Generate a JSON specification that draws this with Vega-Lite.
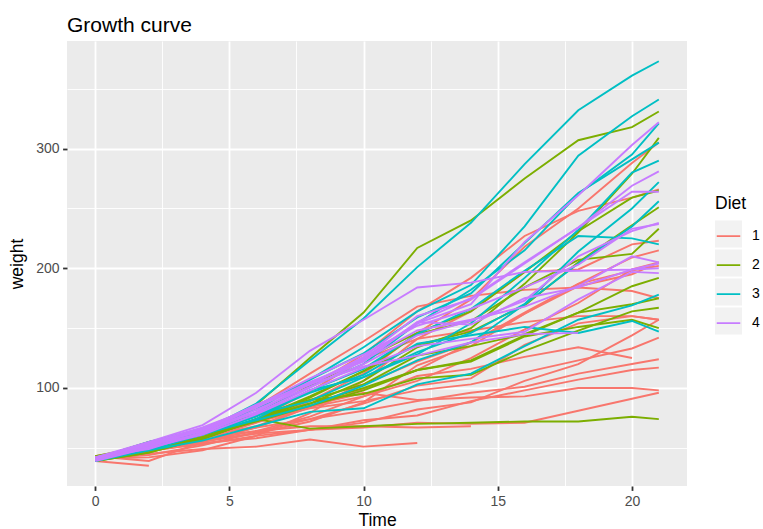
{
  "$schema": "https://vega.github.io/schema/vega-lite/v6.json",
  "width": 620,
  "height": 445,
  "autosize": {"type": "none"},
  "padding": {"left": 67, "top": 41, "right": 76, "bottom": 43},
  "background": "white",
  "title": {
    "text": "Growth curve",
    "anchor": "start",
    "frame": "group",
    "fontSize": 21,
    "fontWeight": "normal",
    "color": "black",
    "baseline": "alphabetic",
    "offset": -12
  },
  "data": {
    "values": [
      {"Chick":1,"Diet":1,"Time":0,"weight":42},{"Chick":1,"Diet":1,"Time":2,"weight":51},{"Chick":1,"Diet":1,"Time":4,"weight":59},{"Chick":1,"Diet":1,"Time":6,"weight":64},{"Chick":1,"Diet":1,"Time":8,"weight":76},{"Chick":1,"Diet":1,"Time":10,"weight":93},{"Chick":1,"Diet":1,"Time":12,"weight":106},{"Chick":1,"Diet":1,"Time":14,"weight":125},{"Chick":1,"Diet":1,"Time":16,"weight":149},{"Chick":1,"Diet":1,"Time":18,"weight":171},{"Chick":1,"Diet":1,"Time":20,"weight":199},{"Chick":1,"Diet":1,"Time":21,"weight":205},
      {"Chick":2,"Diet":1,"Time":0,"weight":40},{"Chick":2,"Diet":1,"Time":2,"weight":49},{"Chick":2,"Diet":1,"Time":4,"weight":58},{"Chick":2,"Diet":1,"Time":6,"weight":72},{"Chick":2,"Diet":1,"Time":8,"weight":84},{"Chick":2,"Diet":1,"Time":10,"weight":103},{"Chick":2,"Diet":1,"Time":12,"weight":122},{"Chick":2,"Diet":1,"Time":14,"weight":138},{"Chick":2,"Diet":1,"Time":16,"weight":162},{"Chick":2,"Diet":1,"Time":18,"weight":187},{"Chick":2,"Diet":1,"Time":20,"weight":209},{"Chick":2,"Diet":1,"Time":21,"weight":215},
      {"Chick":3,"Diet":1,"Time":0,"weight":43},{"Chick":3,"Diet":1,"Time":2,"weight":39},{"Chick":3,"Diet":1,"Time":4,"weight":55},{"Chick":3,"Diet":1,"Time":6,"weight":67},{"Chick":3,"Diet":1,"Time":8,"weight":84},{"Chick":3,"Diet":1,"Time":10,"weight":99},{"Chick":3,"Diet":1,"Time":12,"weight":115},{"Chick":3,"Diet":1,"Time":14,"weight":138},{"Chick":3,"Diet":1,"Time":16,"weight":163},{"Chick":3,"Diet":1,"Time":18,"weight":187},{"Chick":3,"Diet":1,"Time":20,"weight":198},{"Chick":3,"Diet":1,"Time":21,"weight":202},
      {"Chick":4,"Diet":1,"Time":0,"weight":42},{"Chick":4,"Diet":1,"Time":2,"weight":49},{"Chick":4,"Diet":1,"Time":4,"weight":56},{"Chick":4,"Diet":1,"Time":6,"weight":67},{"Chick":4,"Diet":1,"Time":8,"weight":74},{"Chick":4,"Diet":1,"Time":10,"weight":87},{"Chick":4,"Diet":1,"Time":12,"weight":102},{"Chick":4,"Diet":1,"Time":14,"weight":108},{"Chick":4,"Diet":1,"Time":16,"weight":136},{"Chick":4,"Diet":1,"Time":18,"weight":154},{"Chick":4,"Diet":1,"Time":20,"weight":160},{"Chick":4,"Diet":1,"Time":21,"weight":157},
      {"Chick":5,"Diet":1,"Time":0,"weight":41},{"Chick":5,"Diet":1,"Time":2,"weight":42},{"Chick":5,"Diet":1,"Time":4,"weight":48},{"Chick":5,"Diet":1,"Time":6,"weight":60},{"Chick":5,"Diet":1,"Time":8,"weight":79},{"Chick":5,"Diet":1,"Time":10,"weight":106},{"Chick":5,"Diet":1,"Time":12,"weight":141},{"Chick":5,"Diet":1,"Time":14,"weight":164},{"Chick":5,"Diet":1,"Time":16,"weight":197},{"Chick":5,"Diet":1,"Time":18,"weight":199},{"Chick":5,"Diet":1,"Time":20,"weight":220},{"Chick":5,"Diet":1,"Time":21,"weight":223},
      {"Chick":6,"Diet":1,"Time":0,"weight":41},{"Chick":6,"Diet":1,"Time":2,"weight":49},{"Chick":6,"Diet":1,"Time":4,"weight":59},{"Chick":6,"Diet":1,"Time":6,"weight":74},{"Chick":6,"Diet":1,"Time":8,"weight":97},{"Chick":6,"Diet":1,"Time":10,"weight":124},{"Chick":6,"Diet":1,"Time":12,"weight":141},{"Chick":6,"Diet":1,"Time":14,"weight":148},{"Chick":6,"Diet":1,"Time":16,"weight":155},{"Chick":6,"Diet":1,"Time":18,"weight":160},{"Chick":6,"Diet":1,"Time":20,"weight":160},{"Chick":6,"Diet":1,"Time":21,"weight":157},
      {"Chick":7,"Diet":1,"Time":0,"weight":41},{"Chick":7,"Diet":1,"Time":2,"weight":49},{"Chick":7,"Diet":1,"Time":4,"weight":57},{"Chick":7,"Diet":1,"Time":6,"weight":71},{"Chick":7,"Diet":1,"Time":8,"weight":89},{"Chick":7,"Diet":1,"Time":10,"weight":112},{"Chick":7,"Diet":1,"Time":12,"weight":146},{"Chick":7,"Diet":1,"Time":14,"weight":174},{"Chick":7,"Diet":1,"Time":16,"weight":218},{"Chick":7,"Diet":1,"Time":18,"weight":250},{"Chick":7,"Diet":1,"Time":20,"weight":288},{"Chick":7,"Diet":1,"Time":21,"weight":305},
      {"Chick":8,"Diet":1,"Time":0,"weight":42},{"Chick":8,"Diet":1,"Time":2,"weight":50},{"Chick":8,"Diet":1,"Time":4,"weight":61},{"Chick":8,"Diet":1,"Time":6,"weight":71},{"Chick":8,"Diet":1,"Time":8,"weight":84},{"Chick":8,"Diet":1,"Time":10,"weight":93},{"Chick":8,"Diet":1,"Time":12,"weight":110},{"Chick":8,"Diet":1,"Time":14,"weight":116},{"Chick":8,"Diet":1,"Time":16,"weight":126},{"Chick":8,"Diet":1,"Time":18,"weight":134},{"Chick":8,"Diet":1,"Time":20,"weight":125},
      {"Chick":9,"Diet":1,"Time":0,"weight":42},{"Chick":9,"Diet":1,"Time":2,"weight":51},{"Chick":9,"Diet":1,"Time":4,"weight":59},{"Chick":9,"Diet":1,"Time":6,"weight":68},{"Chick":9,"Diet":1,"Time":8,"weight":85},{"Chick":9,"Diet":1,"Time":10,"weight":96},{"Chick":9,"Diet":1,"Time":12,"weight":90},{"Chick":9,"Diet":1,"Time":14,"weight":92},{"Chick":9,"Diet":1,"Time":16,"weight":93},{"Chick":9,"Diet":1,"Time":18,"weight":100},{"Chick":9,"Diet":1,"Time":20,"weight":100},{"Chick":9,"Diet":1,"Time":21,"weight":98},
      {"Chick":10,"Diet":1,"Time":0,"weight":41},{"Chick":10,"Diet":1,"Time":2,"weight":44},{"Chick":10,"Diet":1,"Time":4,"weight":52},{"Chick":10,"Diet":1,"Time":6,"weight":63},{"Chick":10,"Diet":1,"Time":8,"weight":74},{"Chick":10,"Diet":1,"Time":10,"weight":81},{"Chick":10,"Diet":1,"Time":12,"weight":89},{"Chick":10,"Diet":1,"Time":14,"weight":96},{"Chick":10,"Diet":1,"Time":16,"weight":101},{"Chick":10,"Diet":1,"Time":18,"weight":112},{"Chick":10,"Diet":1,"Time":20,"weight":120},{"Chick":10,"Diet":1,"Time":21,"weight":124},
      {"Chick":11,"Diet":1,"Time":0,"weight":43},{"Chick":11,"Diet":1,"Time":2,"weight":51},{"Chick":11,"Diet":1,"Time":4,"weight":63},{"Chick":11,"Diet":1,"Time":6,"weight":84},{"Chick":11,"Diet":1,"Time":8,"weight":112},{"Chick":11,"Diet":1,"Time":10,"weight":139},{"Chick":11,"Diet":1,"Time":12,"weight":168},{"Chick":11,"Diet":1,"Time":14,"weight":177},{"Chick":11,"Diet":1,"Time":16,"weight":182},{"Chick":11,"Diet":1,"Time":18,"weight":184},{"Chick":11,"Diet":1,"Time":20,"weight":181},{"Chick":11,"Diet":1,"Time":21,"weight":175},
      {"Chick":12,"Diet":1,"Time":0,"weight":41},{"Chick":12,"Diet":1,"Time":2,"weight":49},{"Chick":12,"Diet":1,"Time":4,"weight":56},{"Chick":12,"Diet":1,"Time":6,"weight":62},{"Chick":12,"Diet":1,"Time":8,"weight":72},{"Chick":12,"Diet":1,"Time":10,"weight":88},{"Chick":12,"Diet":1,"Time":12,"weight":119},{"Chick":12,"Diet":1,"Time":14,"weight":135},{"Chick":12,"Diet":1,"Time":16,"weight":162},{"Chick":12,"Diet":1,"Time":18,"weight":185},{"Chick":12,"Diet":1,"Time":20,"weight":195},{"Chick":12,"Diet":1,"Time":21,"weight":205},
      {"Chick":13,"Diet":1,"Time":0,"weight":41},{"Chick":13,"Diet":1,"Time":2,"weight":48},{"Chick":13,"Diet":1,"Time":4,"weight":53},{"Chick":13,"Diet":1,"Time":6,"weight":60},{"Chick":13,"Diet":1,"Time":8,"weight":65},{"Chick":13,"Diet":1,"Time":10,"weight":67},{"Chick":13,"Diet":1,"Time":12,"weight":71},{"Chick":13,"Diet":1,"Time":14,"weight":70},{"Chick":13,"Diet":1,"Time":16,"weight":71},{"Chick":13,"Diet":1,"Time":18,"weight":81},{"Chick":13,"Diet":1,"Time":20,"weight":91},{"Chick":13,"Diet":1,"Time":21,"weight":96},
      {"Chick":14,"Diet":1,"Time":0,"weight":41},{"Chick":14,"Diet":1,"Time":2,"weight":49},{"Chick":14,"Diet":1,"Time":4,"weight":62},{"Chick":14,"Diet":1,"Time":6,"weight":79},{"Chick":14,"Diet":1,"Time":8,"weight":101},{"Chick":14,"Diet":1,"Time":10,"weight":128},{"Chick":14,"Diet":1,"Time":12,"weight":164},{"Chick":14,"Diet":1,"Time":14,"weight":192},{"Chick":14,"Diet":1,"Time":16,"weight":227},{"Chick":14,"Diet":1,"Time":18,"weight":248},{"Chick":14,"Diet":1,"Time":20,"weight":259},{"Chick":14,"Diet":1,"Time":21,"weight":266},
      {"Chick":15,"Diet":1,"Time":0,"weight":41},{"Chick":15,"Diet":1,"Time":2,"weight":49},{"Chick":15,"Diet":1,"Time":4,"weight":56},{"Chick":15,"Diet":1,"Time":6,"weight":64},{"Chick":15,"Diet":1,"Time":8,"weight":68},{"Chick":15,"Diet":1,"Time":10,"weight":68},{"Chick":15,"Diet":1,"Time":12,"weight":67},{"Chick":15,"Diet":1,"Time":14,"weight":68},
      {"Chick":16,"Diet":1,"Time":0,"weight":41},{"Chick":16,"Diet":1,"Time":2,"weight":45},{"Chick":16,"Diet":1,"Time":4,"weight":49},{"Chick":16,"Diet":1,"Time":6,"weight":51},{"Chick":16,"Diet":1,"Time":8,"weight":57},{"Chick":16,"Diet":1,"Time":10,"weight":51},{"Chick":16,"Diet":1,"Time":12,"weight":54},
      {"Chick":17,"Diet":1,"Time":0,"weight":42},{"Chick":17,"Diet":1,"Time":2,"weight":51},{"Chick":17,"Diet":1,"Time":4,"weight":61},{"Chick":17,"Diet":1,"Time":6,"weight":72},{"Chick":17,"Diet":1,"Time":8,"weight":83},{"Chick":17,"Diet":1,"Time":10,"weight":89},{"Chick":17,"Diet":1,"Time":12,"weight":98},{"Chick":17,"Diet":1,"Time":14,"weight":103},{"Chick":17,"Diet":1,"Time":16,"weight":113},{"Chick":17,"Diet":1,"Time":18,"weight":123},{"Chick":17,"Diet":1,"Time":20,"weight":133},{"Chick":17,"Diet":1,"Time":21,"weight":142},
      {"Chick":18,"Diet":1,"Time":0,"weight":39},{"Chick":18,"Diet":1,"Time":2,"weight":35},
      {"Chick":19,"Diet":1,"Time":0,"weight":43},{"Chick":19,"Diet":1,"Time":2,"weight":48},{"Chick":19,"Diet":1,"Time":4,"weight":55},{"Chick":19,"Diet":1,"Time":6,"weight":62},{"Chick":19,"Diet":1,"Time":8,"weight":65},{"Chick":19,"Diet":1,"Time":10,"weight":71},{"Chick":19,"Diet":1,"Time":12,"weight":82},{"Chick":19,"Diet":1,"Time":14,"weight":88},{"Chick":19,"Diet":1,"Time":16,"weight":106},{"Chick":19,"Diet":1,"Time":18,"weight":120},{"Chick":19,"Diet":1,"Time":20,"weight":144},{"Chick":19,"Diet":1,"Time":21,"weight":157},
      {"Chick":20,"Diet":1,"Time":0,"weight":41},{"Chick":20,"Diet":1,"Time":2,"weight":47},{"Chick":20,"Diet":1,"Time":4,"weight":54},{"Chick":20,"Diet":1,"Time":6,"weight":58},{"Chick":20,"Diet":1,"Time":8,"weight":65},{"Chick":20,"Diet":1,"Time":10,"weight":73},{"Chick":20,"Diet":1,"Time":12,"weight":77},{"Chick":20,"Diet":1,"Time":14,"weight":89},{"Chick":20,"Diet":1,"Time":16,"weight":98},{"Chick":20,"Diet":1,"Time":18,"weight":107},{"Chick":20,"Diet":1,"Time":20,"weight":115},{"Chick":20,"Diet":1,"Time":21,"weight":117},
      {"Chick":21,"Diet":2,"Time":0,"weight":40},{"Chick":21,"Diet":2,"Time":2,"weight":50},{"Chick":21,"Diet":2,"Time":4,"weight":62},{"Chick":21,"Diet":2,"Time":6,"weight":86},{"Chick":21,"Diet":2,"Time":8,"weight":125},{"Chick":21,"Diet":2,"Time":10,"weight":163},{"Chick":21,"Diet":2,"Time":12,"weight":217},{"Chick":21,"Diet":2,"Time":14,"weight":240},{"Chick":21,"Diet":2,"Time":16,"weight":275},{"Chick":21,"Diet":2,"Time":18,"weight":307},{"Chick":21,"Diet":2,"Time":20,"weight":318},{"Chick":21,"Diet":2,"Time":21,"weight":331},
      {"Chick":22,"Diet":2,"Time":0,"weight":41},{"Chick":22,"Diet":2,"Time":2,"weight":55},{"Chick":22,"Diet":2,"Time":4,"weight":64},{"Chick":22,"Diet":2,"Time":6,"weight":77},{"Chick":22,"Diet":2,"Time":8,"weight":90},{"Chick":22,"Diet":2,"Time":10,"weight":95},{"Chick":22,"Diet":2,"Time":12,"weight":108},{"Chick":22,"Diet":2,"Time":14,"weight":111},{"Chick":22,"Diet":2,"Time":16,"weight":131},{"Chick":22,"Diet":2,"Time":18,"weight":148},{"Chick":22,"Diet":2,"Time":20,"weight":164},{"Chick":22,"Diet":2,"Time":21,"weight":167},
      {"Chick":23,"Diet":2,"Time":0,"weight":43},{"Chick":23,"Diet":2,"Time":2,"weight":52},{"Chick":23,"Diet":2,"Time":4,"weight":61},{"Chick":23,"Diet":2,"Time":6,"weight":73},{"Chick":23,"Diet":2,"Time":8,"weight":90},{"Chick":23,"Diet":2,"Time":10,"weight":103},{"Chick":23,"Diet":2,"Time":12,"weight":127},{"Chick":23,"Diet":2,"Time":14,"weight":135},{"Chick":23,"Diet":2,"Time":16,"weight":145},{"Chick":23,"Diet":2,"Time":18,"weight":163},{"Chick":23,"Diet":2,"Time":20,"weight":170},{"Chick":23,"Diet":2,"Time":21,"weight":175},
      {"Chick":24,"Diet":2,"Time":0,"weight":42},{"Chick":24,"Diet":2,"Time":2,"weight":52},{"Chick":24,"Diet":2,"Time":4,"weight":58},{"Chick":24,"Diet":2,"Time":6,"weight":74},{"Chick":24,"Diet":2,"Time":8,"weight":66},{"Chick":24,"Diet":2,"Time":10,"weight":68},{"Chick":24,"Diet":2,"Time":12,"weight":70},{"Chick":24,"Diet":2,"Time":14,"weight":71},{"Chick":24,"Diet":2,"Time":16,"weight":72},{"Chick":24,"Diet":2,"Time":18,"weight":72},{"Chick":24,"Diet":2,"Time":20,"weight":76},{"Chick":24,"Diet":2,"Time":21,"weight":74},
      {"Chick":25,"Diet":2,"Time":0,"weight":40},{"Chick":25,"Diet":2,"Time":2,"weight":49},{"Chick":25,"Diet":2,"Time":4,"weight":62},{"Chick":25,"Diet":2,"Time":6,"weight":78},{"Chick":25,"Diet":2,"Time":8,"weight":102},{"Chick":25,"Diet":2,"Time":10,"weight":124},{"Chick":25,"Diet":2,"Time":12,"weight":146},{"Chick":25,"Diet":2,"Time":14,"weight":164},{"Chick":25,"Diet":2,"Time":16,"weight":197},{"Chick":25,"Diet":2,"Time":18,"weight":231},{"Chick":25,"Diet":2,"Time":20,"weight":259},{"Chick":25,"Diet":2,"Time":21,"weight":265},
      {"Chick":26,"Diet":2,"Time":0,"weight":42},{"Chick":26,"Diet":2,"Time":2,"weight":48},{"Chick":26,"Diet":2,"Time":4,"weight":57},{"Chick":26,"Diet":2,"Time":6,"weight":74},{"Chick":26,"Diet":2,"Time":8,"weight":93},{"Chick":26,"Diet":2,"Time":10,"weight":114},{"Chick":26,"Diet":2,"Time":12,"weight":136},{"Chick":26,"Diet":2,"Time":14,"weight":147},{"Chick":26,"Diet":2,"Time":16,"weight":169},{"Chick":26,"Diet":2,"Time":18,"weight":205},{"Chick":26,"Diet":2,"Time":20,"weight":236},{"Chick":26,"Diet":2,"Time":21,"weight":251},
      {"Chick":27,"Diet":2,"Time":0,"weight":39},{"Chick":27,"Diet":2,"Time":2,"weight":46},{"Chick":27,"Diet":2,"Time":4,"weight":58},{"Chick":27,"Diet":2,"Time":6,"weight":73},{"Chick":27,"Diet":2,"Time":8,"weight":87},{"Chick":27,"Diet":2,"Time":10,"weight":100},{"Chick":27,"Diet":2,"Time":12,"weight":115},{"Chick":27,"Diet":2,"Time":14,"weight":123},{"Chick":27,"Diet":2,"Time":16,"weight":144},{"Chick":27,"Diet":2,"Time":18,"weight":163},{"Chick":27,"Diet":2,"Time":20,"weight":185},{"Chick":27,"Diet":2,"Time":21,"weight":192},
      {"Chick":28,"Diet":2,"Time":0,"weight":39},{"Chick":28,"Diet":2,"Time":2,"weight":46},{"Chick":28,"Diet":2,"Time":4,"weight":58},{"Chick":28,"Diet":2,"Time":6,"weight":73},{"Chick":28,"Diet":2,"Time":8,"weight":92},{"Chick":28,"Diet":2,"Time":10,"weight":114},{"Chick":28,"Diet":2,"Time":12,"weight":145},{"Chick":28,"Diet":2,"Time":14,"weight":156},{"Chick":28,"Diet":2,"Time":16,"weight":184},{"Chick":28,"Diet":2,"Time":18,"weight":207},{"Chick":28,"Diet":2,"Time":20,"weight":212},{"Chick":28,"Diet":2,"Time":21,"weight":233},
      {"Chick":29,"Diet":2,"Time":0,"weight":39},{"Chick":29,"Diet":2,"Time":2,"weight":48},{"Chick":29,"Diet":2,"Time":4,"weight":59},{"Chick":29,"Diet":2,"Time":6,"weight":74},{"Chick":29,"Diet":2,"Time":8,"weight":87},{"Chick":29,"Diet":2,"Time":10,"weight":106},{"Chick":29,"Diet":2,"Time":12,"weight":134},{"Chick":29,"Diet":2,"Time":14,"weight":150},{"Chick":29,"Diet":2,"Time":16,"weight":187},{"Chick":29,"Diet":2,"Time":18,"weight":230},{"Chick":29,"Diet":2,"Time":20,"weight":279},{"Chick":29,"Diet":2,"Time":21,"weight":309},
      {"Chick":30,"Diet":2,"Time":0,"weight":42},{"Chick":30,"Diet":2,"Time":2,"weight":48},{"Chick":30,"Diet":2,"Time":4,"weight":59},{"Chick":30,"Diet":2,"Time":6,"weight":72},{"Chick":30,"Diet":2,"Time":8,"weight":85},{"Chick":30,"Diet":2,"Time":10,"weight":98},{"Chick":30,"Diet":2,"Time":12,"weight":115},{"Chick":30,"Diet":2,"Time":14,"weight":122},{"Chick":30,"Diet":2,"Time":16,"weight":143},{"Chick":30,"Diet":2,"Time":18,"weight":151},{"Chick":30,"Diet":2,"Time":20,"weight":157},{"Chick":30,"Diet":2,"Time":21,"weight":150},
      {"Chick":31,"Diet":3,"Time":0,"weight":42},{"Chick":31,"Diet":3,"Time":2,"weight":53},{"Chick":31,"Diet":3,"Time":4,"weight":62},{"Chick":31,"Diet":3,"Time":6,"weight":73},{"Chick":31,"Diet":3,"Time":8,"weight":85},{"Chick":31,"Diet":3,"Time":10,"weight":102},{"Chick":31,"Diet":3,"Time":12,"weight":123},{"Chick":31,"Diet":3,"Time":14,"weight":138},{"Chick":31,"Diet":3,"Time":16,"weight":170},{"Chick":31,"Diet":3,"Time":18,"weight":204},{"Chick":31,"Diet":3,"Time":20,"weight":235},{"Chick":31,"Diet":3,"Time":21,"weight":256},
      {"Chick":32,"Diet":3,"Time":0,"weight":41},{"Chick":32,"Diet":3,"Time":2,"weight":49},{"Chick":32,"Diet":3,"Time":4,"weight":65},{"Chick":32,"Diet":3,"Time":6,"weight":82},{"Chick":32,"Diet":3,"Time":8,"weight":107},{"Chick":32,"Diet":3,"Time":10,"weight":129},{"Chick":32,"Diet":3,"Time":12,"weight":159},{"Chick":32,"Diet":3,"Time":14,"weight":179},{"Chick":32,"Diet":3,"Time":16,"weight":221},{"Chick":32,"Diet":3,"Time":18,"weight":263},{"Chick":32,"Diet":3,"Time":20,"weight":291},{"Chick":32,"Diet":3,"Time":21,"weight":305},
      {"Chick":33,"Diet":3,"Time":0,"weight":39},{"Chick":33,"Diet":3,"Time":2,"weight":50},{"Chick":33,"Diet":3,"Time":4,"weight":63},{"Chick":33,"Diet":3,"Time":6,"weight":77},{"Chick":33,"Diet":3,"Time":8,"weight":96},{"Chick":33,"Diet":3,"Time":10,"weight":111},{"Chick":33,"Diet":3,"Time":12,"weight":137},{"Chick":33,"Diet":3,"Time":14,"weight":144},{"Chick":33,"Diet":3,"Time":16,"weight":151},{"Chick":33,"Diet":3,"Time":18,"weight":146},{"Chick":33,"Diet":3,"Time":20,"weight":156},{"Chick":33,"Diet":3,"Time":21,"weight":147},
      {"Chick":34,"Diet":3,"Time":0,"weight":41},{"Chick":34,"Diet":3,"Time":2,"weight":49},{"Chick":34,"Diet":3,"Time":4,"weight":63},{"Chick":34,"Diet":3,"Time":6,"weight":85},{"Chick":34,"Diet":3,"Time":8,"weight":107},{"Chick":34,"Diet":3,"Time":10,"weight":134},{"Chick":34,"Diet":3,"Time":12,"weight":164},{"Chick":34,"Diet":3,"Time":14,"weight":186},{"Chick":34,"Diet":3,"Time":16,"weight":235},{"Chick":34,"Diet":3,"Time":18,"weight":294},{"Chick":34,"Diet":3,"Time":20,"weight":327},{"Chick":34,"Diet":3,"Time":21,"weight":341},
      {"Chick":35,"Diet":3,"Time":0,"weight":41},{"Chick":35,"Diet":3,"Time":2,"weight":53},{"Chick":35,"Diet":3,"Time":4,"weight":64},{"Chick":35,"Diet":3,"Time":6,"weight":87},{"Chick":35,"Diet":3,"Time":8,"weight":123},{"Chick":35,"Diet":3,"Time":10,"weight":158},{"Chick":35,"Diet":3,"Time":12,"weight":201},{"Chick":35,"Diet":3,"Time":14,"weight":238},{"Chick":35,"Diet":3,"Time":16,"weight":287},{"Chick":35,"Diet":3,"Time":18,"weight":332},{"Chick":35,"Diet":3,"Time":20,"weight":361},{"Chick":35,"Diet":3,"Time":21,"weight":373},
      {"Chick":36,"Diet":3,"Time":0,"weight":39},{"Chick":36,"Diet":3,"Time":2,"weight":48},{"Chick":36,"Diet":3,"Time":4,"weight":61},{"Chick":36,"Diet":3,"Time":6,"weight":76},{"Chick":36,"Diet":3,"Time":8,"weight":98},{"Chick":36,"Diet":3,"Time":10,"weight":116},{"Chick":36,"Diet":3,"Time":12,"weight":145},{"Chick":36,"Diet":3,"Time":14,"weight":166},{"Chick":36,"Diet":3,"Time":16,"weight":198},{"Chick":36,"Diet":3,"Time":18,"weight":227},{"Chick":36,"Diet":3,"Time":20,"weight":225},{"Chick":36,"Diet":3,"Time":21,"weight":220},
      {"Chick":37,"Diet":3,"Time":0,"weight":41},{"Chick":37,"Diet":3,"Time":2,"weight":48},{"Chick":37,"Diet":3,"Time":4,"weight":56},{"Chick":37,"Diet":3,"Time":6,"weight":68},{"Chick":37,"Diet":3,"Time":8,"weight":80},{"Chick":37,"Diet":3,"Time":10,"weight":83},{"Chick":37,"Diet":3,"Time":12,"weight":103},{"Chick":37,"Diet":3,"Time":14,"weight":112},{"Chick":37,"Diet":3,"Time":16,"weight":135},{"Chick":37,"Diet":3,"Time":18,"weight":157},{"Chick":37,"Diet":3,"Time":20,"weight":169},{"Chick":37,"Diet":3,"Time":21,"weight":178},
      {"Chick":38,"Diet":3,"Time":0,"weight":41},{"Chick":38,"Diet":3,"Time":2,"weight":49},{"Chick":38,"Diet":3,"Time":4,"weight":61},{"Chick":38,"Diet":3,"Time":6,"weight":74},{"Chick":38,"Diet":3,"Time":8,"weight":98},{"Chick":38,"Diet":3,"Time":10,"weight":109},{"Chick":38,"Diet":3,"Time":12,"weight":128},{"Chick":38,"Diet":3,"Time":14,"weight":154},{"Chick":38,"Diet":3,"Time":16,"weight":192},{"Chick":38,"Diet":3,"Time":18,"weight":232},{"Chick":38,"Diet":3,"Time":20,"weight":280},{"Chick":38,"Diet":3,"Time":21,"weight":290},
      {"Chick":39,"Diet":3,"Time":0,"weight":42},{"Chick":39,"Diet":3,"Time":2,"weight":50},{"Chick":39,"Diet":3,"Time":4,"weight":61},{"Chick":39,"Diet":3,"Time":6,"weight":78},{"Chick":39,"Diet":3,"Time":8,"weight":89},{"Chick":39,"Diet":3,"Time":10,"weight":109},{"Chick":39,"Diet":3,"Time":12,"weight":130},{"Chick":39,"Diet":3,"Time":14,"weight":146},{"Chick":39,"Diet":3,"Time":16,"weight":170},{"Chick":39,"Diet":3,"Time":18,"weight":214},{"Chick":39,"Diet":3,"Time":20,"weight":250},{"Chick":39,"Diet":3,"Time":21,"weight":272},
      {"Chick":40,"Diet":3,"Time":0,"weight":41},{"Chick":40,"Diet":3,"Time":2,"weight":55},{"Chick":40,"Diet":3,"Time":4,"weight":66},{"Chick":40,"Diet":3,"Time":6,"weight":79},{"Chick":40,"Diet":3,"Time":8,"weight":101},{"Chick":40,"Diet":3,"Time":10,"weight":120},{"Chick":40,"Diet":3,"Time":12,"weight":154},{"Chick":40,"Diet":3,"Time":14,"weight":182},{"Chick":40,"Diet":3,"Time":16,"weight":215},{"Chick":40,"Diet":3,"Time":18,"weight":262},{"Chick":40,"Diet":3,"Time":20,"weight":295},{"Chick":40,"Diet":3,"Time":21,"weight":321},
      {"Chick":41,"Diet":4,"Time":0,"weight":42},{"Chick":41,"Diet":4,"Time":2,"weight":51},{"Chick":41,"Diet":4,"Time":4,"weight":66},{"Chick":41,"Diet":4,"Time":6,"weight":85},{"Chick":41,"Diet":4,"Time":8,"weight":103},{"Chick":41,"Diet":4,"Time":10,"weight":124},{"Chick":41,"Diet":4,"Time":12,"weight":155},{"Chick":41,"Diet":4,"Time":14,"weight":153},{"Chick":41,"Diet":4,"Time":16,"weight":175},{"Chick":41,"Diet":4,"Time":18,"weight":184},{"Chick":41,"Diet":4,"Time":20,"weight":199},{"Chick":41,"Diet":4,"Time":21,"weight":204},
      {"Chick":42,"Diet":4,"Time":0,"weight":42},{"Chick":42,"Diet":4,"Time":2,"weight":49},{"Chick":42,"Diet":4,"Time":4,"weight":63},{"Chick":42,"Diet":4,"Time":6,"weight":84},{"Chick":42,"Diet":4,"Time":8,"weight":103},{"Chick":42,"Diet":4,"Time":10,"weight":126},{"Chick":42,"Diet":4,"Time":12,"weight":160},{"Chick":42,"Diet":4,"Time":14,"weight":174},{"Chick":42,"Diet":4,"Time":16,"weight":204},{"Chick":42,"Diet":4,"Time":18,"weight":234},{"Chick":42,"Diet":4,"Time":20,"weight":269},{"Chick":42,"Diet":4,"Time":21,"weight":281},
      {"Chick":43,"Diet":4,"Time":0,"weight":42},{"Chick":43,"Diet":4,"Time":2,"weight":55},{"Chick":43,"Diet":4,"Time":4,"weight":69},{"Chick":43,"Diet":4,"Time":6,"weight":96},{"Chick":43,"Diet":4,"Time":8,"weight":131},{"Chick":43,"Diet":4,"Time":10,"weight":157},{"Chick":43,"Diet":4,"Time":12,"weight":184},{"Chick":43,"Diet":4,"Time":14,"weight":188},{"Chick":43,"Diet":4,"Time":16,"weight":197},{"Chick":43,"Diet":4,"Time":18,"weight":198},{"Chick":43,"Diet":4,"Time":20,"weight":199},{"Chick":43,"Diet":4,"Time":21,"weight":200},
      {"Chick":44,"Diet":4,"Time":0,"weight":42},{"Chick":44,"Diet":4,"Time":2,"weight":51},{"Chick":44,"Diet":4,"Time":4,"weight":65},{"Chick":44,"Diet":4,"Time":6,"weight":86},{"Chick":44,"Diet":4,"Time":8,"weight":103},{"Chick":44,"Diet":4,"Time":10,"weight":118},{"Chick":44,"Diet":4,"Time":12,"weight":127},{"Chick":44,"Diet":4,"Time":14,"weight":138},{"Chick":44,"Diet":4,"Time":16,"weight":145},{"Chick":44,"Diet":4,"Time":18,"weight":146},
      {"Chick":45,"Diet":4,"Time":0,"weight":41},{"Chick":45,"Diet":4,"Time":2,"weight":50},{"Chick":45,"Diet":4,"Time":4,"weight":61},{"Chick":45,"Diet":4,"Time":6,"weight":78},{"Chick":45,"Diet":4,"Time":8,"weight":98},{"Chick":45,"Diet":4,"Time":10,"weight":117},{"Chick":45,"Diet":4,"Time":12,"weight":135},{"Chick":45,"Diet":4,"Time":14,"weight":141},{"Chick":45,"Diet":4,"Time":16,"weight":147},{"Chick":45,"Diet":4,"Time":18,"weight":174},{"Chick":45,"Diet":4,"Time":20,"weight":197},{"Chick":45,"Diet":4,"Time":21,"weight":196},
      {"Chick":46,"Diet":4,"Time":0,"weight":40},{"Chick":46,"Diet":4,"Time":2,"weight":52},{"Chick":46,"Diet":4,"Time":4,"weight":62},{"Chick":46,"Diet":4,"Time":6,"weight":82},{"Chick":46,"Diet":4,"Time":8,"weight":101},{"Chick":46,"Diet":4,"Time":10,"weight":120},{"Chick":46,"Diet":4,"Time":12,"weight":144},{"Chick":46,"Diet":4,"Time":14,"weight":156},{"Chick":46,"Diet":4,"Time":16,"weight":173},{"Chick":46,"Diet":4,"Time":18,"weight":210},{"Chick":46,"Diet":4,"Time":20,"weight":231},{"Chick":46,"Diet":4,"Time":21,"weight":238},
      {"Chick":47,"Diet":4,"Time":0,"weight":41},{"Chick":47,"Diet":4,"Time":2,"weight":53},{"Chick":47,"Diet":4,"Time":4,"weight":66},{"Chick":47,"Diet":4,"Time":6,"weight":79},{"Chick":47,"Diet":4,"Time":8,"weight":100},{"Chick":47,"Diet":4,"Time":10,"weight":123},{"Chick":47,"Diet":4,"Time":12,"weight":148},{"Chick":47,"Diet":4,"Time":14,"weight":157},{"Chick":47,"Diet":4,"Time":16,"weight":168},{"Chick":47,"Diet":4,"Time":18,"weight":185},{"Chick":47,"Diet":4,"Time":20,"weight":210},{"Chick":47,"Diet":4,"Time":21,"weight":205},
      {"Chick":48,"Diet":4,"Time":0,"weight":39},{"Chick":48,"Diet":4,"Time":2,"weight":50},{"Chick":48,"Diet":4,"Time":4,"weight":62},{"Chick":48,"Diet":4,"Time":6,"weight":80},{"Chick":48,"Diet":4,"Time":8,"weight":104},{"Chick":48,"Diet":4,"Time":10,"weight":125},{"Chick":48,"Diet":4,"Time":12,"weight":154},{"Chick":48,"Diet":4,"Time":14,"weight":170},{"Chick":48,"Diet":4,"Time":16,"weight":222},{"Chick":48,"Diet":4,"Time":18,"weight":261},{"Chick":48,"Diet":4,"Time":20,"weight":303},{"Chick":48,"Diet":4,"Time":21,"weight":322},
      {"Chick":49,"Diet":4,"Time":0,"weight":40},{"Chick":49,"Diet":4,"Time":2,"weight":53},{"Chick":49,"Diet":4,"Time":4,"weight":64},{"Chick":49,"Diet":4,"Time":6,"weight":85},{"Chick":49,"Diet":4,"Time":8,"weight":108},{"Chick":49,"Diet":4,"Time":10,"weight":128},{"Chick":49,"Diet":4,"Time":12,"weight":152},{"Chick":49,"Diet":4,"Time":14,"weight":166},{"Chick":49,"Diet":4,"Time":16,"weight":184},{"Chick":49,"Diet":4,"Time":18,"weight":203},{"Chick":49,"Diet":4,"Time":20,"weight":233},{"Chick":49,"Diet":4,"Time":21,"weight":237},
      {"Chick":50,"Diet":4,"Time":0,"weight":41},{"Chick":50,"Diet":4,"Time":2,"weight":54},{"Chick":50,"Diet":4,"Time":4,"weight":67},{"Chick":50,"Diet":4,"Time":6,"weight":84},{"Chick":50,"Diet":4,"Time":8,"weight":105},{"Chick":50,"Diet":4,"Time":10,"weight":122},{"Chick":50,"Diet":4,"Time":12,"weight":155},{"Chick":50,"Diet":4,"Time":14,"weight":175},{"Chick":50,"Diet":4,"Time":16,"weight":205},{"Chick":50,"Diet":4,"Time":18,"weight":234},{"Chick":50,"Diet":4,"Time":20,"weight":264},{"Chick":50,"Diet":4,"Time":21,"weight":264}
    ]
  },
  "encoding": {
    "x": {
      "field": "Time",
      "type": "quantitative",
      "title": "Time",
      "scale": {"domain": [-1.05, 22.05], "nice": false, "zero": false},
      "axis": {
        "values": [0, 2.5, 5, 7.5, 10, 12.5, 15, 17.5, 20],
        "labelExpr": "datum.value % 5 === 0 ? datum.label : ''",
        "gridWidth": {"condition": {"test": "datum.value % 5 !== 0", "value": 0.9}, "value": 1.8},
        "tickOpacity": {"condition": {"test": "datum.value % 5 !== 0", "value": 0}, "value": 1},
        "labelPadding": 3.6,
        "titlePadding": 3.5,
        "labelFlush": false,
        "labelOverlap": false
      }
    },
    "y": {
      "field": "weight",
      "type": "quantitative",
      "title": "weight",
      "scale": {"domain": [18.1, 389.9], "nice": false, "zero": false},
      "axis": {
        "values": [50, 100, 150, 200, 250, 300, 350],
        "labelExpr": "datum.value % 100 === 0 ? datum.label : ''",
        "gridWidth": {"condition": {"test": "datum.value % 100 !== 0", "value": 0.9}, "value": 1.8},
        "tickOpacity": {"condition": {"test": "datum.value % 100 !== 0", "value": 0}, "value": 1},
        "labelPadding": 3.6,
        "titlePadding": 9,
        "labelFlush": false,
        "labelOverlap": false
      }
    }
  },
  "layer": [
    {
      "transform": [{"filter": "false"}],
      "mark": {"type": "square", "filled": true},
      "encoding": {
        "fill": {
          "field": "Diet",
          "type": "nominal",
          "scale": {"domain": [1, 2, 3, 4], "range": ["#F2F2F2", "#F2F2F2", "#F2F2F2", "#F2F2F2"]},
          "legend": {
            "title": null,
            "orient": "none",
            "legendX": 648,
            "legendY": 178.6,
            "clipHeight": 28.7,
            "symbolType": "square",
            "symbolSize": 729,
            "symbolStrokeWidth": 1.9,
            "symbolStrokeColor": "transparent",
            "symbolOffset": -1,
            "symbolOpacity": 1,
            "labelExpr": "''",
            "rowPadding": 0
          }
        }
      }
    },
    {
      "mark": {"type": "line", "strokeWidth": 1.9, "clip": true},
      "encoding": {
        "stroke": {
          "field": "Diet",
          "type": "nominal",
          "scale": {"range": ["#F8766D", "#7CAE00", "#00BFC4", "#C77CFF"]},
          "legend": {
            "title": "Diet",
            "orient": "none",
            "legendX": 648,
            "legendY": 153.8,
            "clipHeight": 28.7,
            "symbolType": "M-0.87,0L0.87,0",
            "symbolSize": 729,
            "symbolStrokeWidth": 1.9,
            "symbolOffset": -1,
            "labelOffset": 9,
            "rowPadding": 0
          }
        },
        "detail": {"field": "Chick", "type": "nominal"}
      }
    }
  ],
  "config": {
    "font": "Liberation Sans",
    "view": {"fill": "#EBEBEB", "stroke": null},
    "axis": {
      "domain": false,
      "grid": true,
      "gridColor": "#FFFFFF",
      "tickColor": "#333333",
      "tickSize": 4.4,
      "tickWidth": 1.8,
      "labelColor": "#4D4D4D",
      "labelFontSize": 14,
      "labelFont": "Liberation Sans",
      "titleFont": "Liberation Sans",
      "titleFontSize": 17.5,
      "titleFontWeight": "normal",
      "titleColor": "#000000"
    },
    "legend": {
      "padding": 0,
      "titleFont": "Liberation Sans",
      "titleFontSize": 17.5,
      "titleFontWeight": "normal",
      "titleColor": "#000000",
      "titlePadding": 9.5,
      "labelFont": "Liberation Sans",
      "labelFontSize": 14,
      "labelColor": "#000000"
    }
  }
}
